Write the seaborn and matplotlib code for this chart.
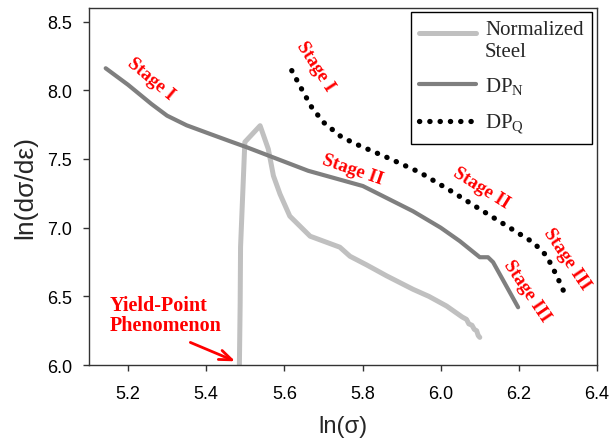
import numpy as np
import pandas as pd
import seaborn as sns
import matplotlib.pyplot as plt


# normalized steel
ns_x = [5.485, 5.487, 5.488, 5.499, 5.538, 5.559, 5.572, 5.589, 5.614, 5.666,
        5.742, 5.768, 5.810, 5.862, 5.929, 5.970, 6.015, 6.040, 6.055, 6.066,
        6.072, 6.080, 6.086, 6.092, 6.096, 6.100]
ns_y = [6.000, 6.450, 6.860, 7.623, 7.742, 7.572, 7.378, 7.244, 7.084, 6.938,
        6.858, 6.792, 6.730, 6.649, 6.552, 6.500, 6.430, 6.380, 6.350, 6.333,
        6.300, 6.290, 6.260, 6.250, 6.215, 6.202]

# DP_N
dpn_x = [5.143, 5.200, 5.260, 5.300, 5.350, 5.410, 5.460, 5.504, 5.661, 5.801,
         5.929, 6.000, 6.049, 6.100, 6.121, 6.134, 6.198]
dpn_y = [8.160, 8.040, 7.900, 7.815, 7.745, 7.682, 7.630, 7.585, 7.414, 7.303,
         7.120, 7.000, 6.902, 6.785, 6.785, 6.749, 6.421]

# DP_Q
dpq_x = [5.619, 5.644, 5.670, 5.700, 5.747, 5.793, 5.862, 5.947, 6.032, 6.100,
         6.169, 6.237, 6.271, 6.297, 6.322]
dpq_y = [8.143, 8.010, 7.876, 7.767, 7.658, 7.596, 7.512, 7.402, 7.257, 7.135,
         7.013, 6.892, 6.795, 6.649, 6.491]

labels = ['Normalized\nSteel', r'DP$_\mathregular{N}$', r'DP$_\mathregular{Q}$']

# stage annotations: text, x, y, angle
stages = [
    ('Stage I', 5.258, 8.088, -40),
    ('Stage I', 5.680, 8.179, -57),
    ('Stage II', 5.774, 7.427, -19),
    ('Stage II', 6.105, 7.293, -32),
    ('Stage III', 6.322, 6.778, -56),
    ('Stage III', 6.220, 6.540, -56),
]


def main():
    sns.set_style('ticks')
    plt.rcParams['font.family'] = ['Liberation Sans', 'DejaVu Sans']

    ns = pd.DataFrame({'x': ns_x, 'y': ns_y})
    dpn = pd.DataFrame({'x': dpn_x, 'y': dpn_y})
    dpq = pd.DataFrame({'x': dpq_x, 'y': dpq_y})

    fig = plt.figure(figsize=(6.13, 4.39), dpi=100)
    ax = fig.add_axes([0.145, 0.166, 0.829, 0.814])

    sns.lineplot(data=ns, x='x', y='y', sort=False, estimator=None, ax=ax,
                 color='#c0c0c0', lw=3.6, label=labels[0])
    sns.lineplot(data=dpn, x='x', y='y', sort=False, estimator=None, ax=ax,
                 color='#7f7f7f', lw=3.0, label=labels[1])
    sns.lineplot(data=dpq, x='x', y='y', sort=False, estimator=None, ax=ax,
                 color='black', lw=3.8, dashes=False, label=labels[2])
    # make the DP_Q line dotted
    ax.lines[-1].set_linestyle((0, (0.05, 1.9)))
    ax.lines[-1].set_dash_capstyle('round')

    for txt, x, y, ang in stages:
        ax.text(x, y, txt, rotation=ang, rotation_mode='anchor',
                ha='center', va='center', color='red', fontsize=13.5,
                fontweight='bold', family='Liberation Serif')

    ax.text(5.154, 6.366, 'Yield-Point\nPhenomenon', ha='left', va='center',
            color='red', fontsize=14.5, fontweight='bold',
            family='Liberation Serif', linespacing=1.0)
    ax.annotate('', xy=(5.481, 6.020), xytext=(5.353, 6.173),
                arrowprops=dict(arrowstyle='->,head_length=0.9,head_width=0.35',
                                color='red', lw=2))

    ax.set_xlim(5.1, 6.4)
    ax.set_ylim(6.0, 8.6)
    ax.set_xticks(np.arange(5.2, 6.41, 0.2))
    ax.set_yticks(np.arange(6.0, 8.51, 0.5))
    ax.set_xticklabels([f'{v:.1f}' for v in np.arange(5.2, 6.41, 0.2)])
    ax.set_yticklabels([f'{v:.1f}' for v in np.arange(6.0, 8.51, 0.5)])
    ax.tick_params(labelsize=13, length=4, width=1, color='#333333',
                   labelcolor='black')
    ax.tick_params(axis='x', pad=10)
    ax.tick_params(axis='y', pad=8)
    for sp in ax.spines.values():
        sp.set_linewidth(1.0)
        sp.set_color('#333333')
    ax.set_xlabel('ln(σ)', fontsize=17, labelpad=10)
    ax.set_ylabel('ln(dσ/dε)', fontsize=19, labelpad=7)

    leg = ax.legend(loc='upper right', bbox_to_anchor=(0.99, 0.989),
                    borderaxespad=0, fancybox=False, edgecolor='black',
                    framealpha=1, handlelength=2.7, handletextpad=0.45,
                    labelspacing=0.7,
                    prop={'family': 'Liberation Serif', 'size': 15})
    leg.get_frame().set_linewidth(1.0)
    leg_lines = leg.get_lines()
    leg_lines[-1].set_linestyle((0, (0.05, 1.9)))
    leg_lines[-1].set_dash_capstyle('round')
    # put the first handle level with the "Normalized" line
    leg_lines[0].set_ydata(np.asarray(leg_lines[0].get_ydata()) + 5)

    plt.savefig('out.png', dpi=100)


if __name__ == "__main__":
    main()
